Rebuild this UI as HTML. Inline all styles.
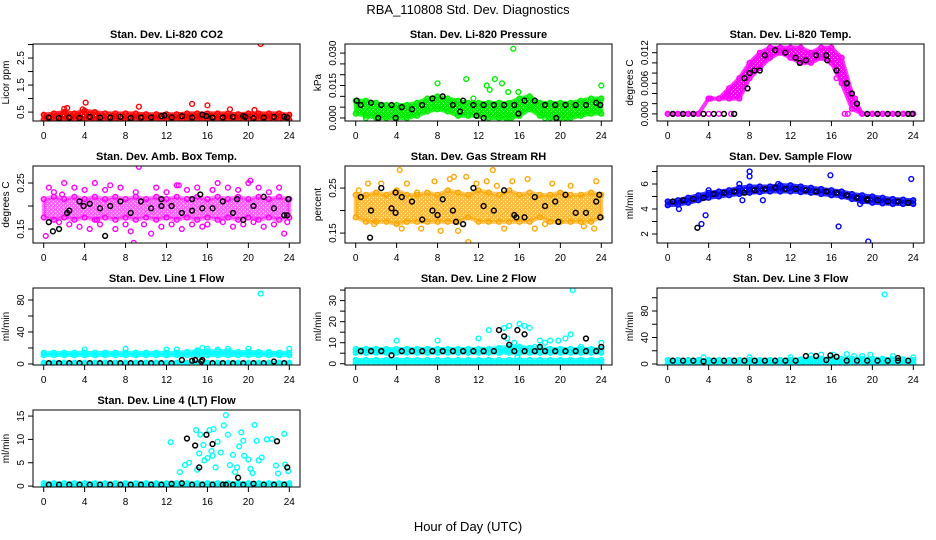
<!DOCTYPE html>
<html><head><meta charset="utf-8"><style>
body{margin:0;background:#fff}
svg{display:block;font-family:"Liberation Sans",sans-serif}
</style></head><body>
<svg id="chart" width="936" height="540" xmlns="http://www.w3.org/2000/svg">
<rect width="936" height="540" fill="#fff"/>
<defs id="defs"></defs>
<text x="468" y="14" font-size="13" text-anchor="middle">RBA_110808  Std. Dev. Diagnostics</text>
<text x="468" y="531" font-size="13" text-anchor="middle">Hour of Day (UTC)</text>
</svg>
<script>
const hoursBand=[0,1,2,3,4,5,6,7,8,9,10,11,12,13,14,15,16,17,18,19,20,21,22,23,24];
const blackTimes=[0.5,1.5,2.5,3.5,4.5,5.5,6.5,7.5,8.5,9.5,10.5,11.5,12.5,13.5,14.5,15.5,16.5,17.5,18.5,19.5,20.5,21.5,22.5,23.5];
const xTicks=[0,4,8,12,16,20,24];

// P1 CO2
const p1Lo=[0.22,0.22,0.22,0.22,0.22,0.22,0.22,0.22,0.22,0.22,0.22,0.22,0.22,0.22,0.22,0.22,0.22,0.22,0.22,0.22,0.22,0.22,0.22,0.22,0.22];
const p1Hi=[0.4,0.45,0.5,0.45,0.55,0.5,0.45,0.45,0.45,0.45,0.42,0.42,0.42,0.42,0.45,0.45,0.45,0.45,0.45,0.42,0.45,0.45,0.45,0.45,0.4];
const p1OutT=[2,2.3,4.1,3.8,9.3,14.5,16,21.2,18.2,20.6];
const p1OutV=[0.62,0.65,0.85,0.6,0.7,0.8,0.75,3.02,0.6,0.58];
const p1Blk=[0.3,0.28,0.3,0.28,0.32,0.3,0.3,0.32,0.28,0.3,0.3,0.35,0.3,0.35,0.3,0.4,0.3,0.3,0.32,0.35,0.28,0.3,0.32,0.33];
const p1XT=[11.8,15.9,19.7,23.8];const p1XV=[0.38,0.35,0.32,0.3];

// P2 pressure
const p2Lo=[0.002,0.001,0.0,0.0,0.0,0.0,0.001,0.003,0.004,0.003,0.001,0.001,0.001,0.0,0.0,0.0,0.001,0.004,0.001,0.0,0.0,0.0,0.001,0.002,0.002];
const p2Hi=[0.008,0.008,0.007,0.006,0.006,0.006,0.007,0.009,0.010,0.009,0.008,0.007,0.007,0.007,0.007,0.007,0.009,0.010,0.007,0.007,0.007,0.007,0.008,0.009,0.009];
const p2OutT=[8,10.8,12.8,13.1,13.6,14.3,14.9,15.4,15.9,11.5,24,1,14.7,15.2,18.5,20.5];
const p2OutV=[0.016,0.018,0.015,0.013,0.018,0.016,0.012,0.032,0.012,0.009,0.015,0,0,0,0,0];
const p2Blk=[0.006,0.007,0.006,0.006,0.005,0.004,0.006,0.009,0.010,0.006,0.008,0.006,0.006,0.006,0.006,0.006,0.008,0.008,0.006,0.006,0.006,0.006,0.006,0.007];
const p2XT=[2.2,3.9,10.2,11.8,12.5,15.9,19.6,23.9,0.1];const p2XV=[0,0,0.003,0.001,0,0.002,0,0.006,0.008];

// P3 Li-820 temp
const p3Lo=[0,0,0,0,0.003,0.003,0.003,0.003,0.007,0.009,0.011,0.012,0.011,0.010,0.010,0.011,0.010,0.006,0.001,0,0,0,0,0,0];
const p3Hi=[0,0,0,0,0.003,0.003,0.005,0.007,0.010,0.012,0.013,0.013,0.013,0.013,0.012,0.013,0.013,0.011,0.004,0,0,0,0,0,0];
const p3OutT=[4,5,6.2,7.8,17.3,17.6,18.3,16.5,4.2,5.8];
const p3OutV=[0,0,0,0.005,0,0,0.003,0.007,0.003,0.004];
const p3Blk=[0,0,0,0,0,0,0,0.007,0.0085,0.0115,0.0125,0.012,0.011,0.0105,0.0115,0.0115,0.0085,0.006,0.002,0,0,0,0,0];
const p3XT=[7.8,8,9,12.9,15.6,17.5,18,23.9];const p3XV=[0.005,0.008,0.0085,0.010,0.0105,0.006,0.004,0];

// P4 Amb box temp
const p4Lo=[0.175,0.17,0.175,0.17,0.175,0.17,0.175,0.17,0.175,0.17,0.175,0.17,0.175,0.17,0.175,0.17,0.175,0.17,0.175,0.17,0.175,0.17,0.175,0.17,0.175];
const p4Hi=[0.215,0.22,0.215,0.22,0.215,0.22,0.215,0.22,0.215,0.22,0.215,0.22,0.215,0.22,0.215,0.22,0.215,0.22,0.215,0.22,0.215,0.22,0.215,0.22,0.215];
const p4OutT=[0.2,0.5,1,1.5,2,2.5,3,3.5,4,4.5,5,5.5,6,6.5,7,7.5,8,8.5,9,9.3,9.8,10.5,11,11.5,12,12.5,13,13.5,14,14.5,15,15.5,16,17,17.5,18,18.5,19,19.5,20,20.5,21,21.5,22,22.5,23,23.5,23.8,1.8,5.2,8.8,13.2,16.5,20.2];
const p4OutV=[0.135,0.24,0.23,0.165,0.25,0.16,0.24,0.155,0.235,0.15,0.25,0.16,0.235,0.245,0.15,0.24,0.16,0.145,0.23,0.285,0.16,0.14,0.24,0.155,0.23,0.16,0.245,0.15,0.235,0.16,0.24,0.155,0.16,0.25,0.165,0.24,0.155,0.235,0.16,0.25,0.165,0.24,0.155,0.23,0.16,0.24,0.14,0.165,0.225,0.17,0.12,0.245,0.235,0.255];
const p4Blk=[0.165,0.15,0.19,0.21,0.205,0.195,0.2,0.21,0.185,0.21,0.195,0.2,0.2,0.185,0.19,0.195,0.195,0.21,0.185,0.17,0.2,0.22,0.195,0.18];
const p4XT=[0.9,2.3,3.9,6,11.5,14.5,15.3,18.9,23.9,23.8];const p4XV=[0.145,0.185,0.2,0.135,0.215,0.215,0.225,0.215,0.215,0.18];

// P5 RH
const p5Lo=[0.185,0.175,0.175,0.175,0.17,0.175,0.175,0.175,0.175,0.175,0.175,0.185,0.175,0.175,0.175,0.175,0.175,0.175,0.185,0.175,0.175,0.175,0.175,0.175,0.185];
const p5Hi=[0.235,0.235,0.24,0.235,0.245,0.235,0.235,0.24,0.235,0.245,0.24,0.235,0.245,0.24,0.235,0.245,0.235,0.24,0.235,0.235,0.24,0.235,0.235,0.24,0.235];
const p5OutT=[0.3,1.2,1.8,4.3,4.5,5,6.4,7.7,8.3,9.2,9.6,10,10.8,11,11.8,12.8,13.4,13.8,14.5,15.3,16.8,17.5,18.5,19.2,21,22.3,23.5,23.3,6,2.5];
const p5OutV=[0.245,0.26,0.17,0.29,0.16,0.26,0.16,0.265,0.155,0.27,0.275,0.155,0.275,0.13,0.26,0.265,0.29,0.255,0.16,0.265,0.27,0.16,0.17,0.26,0.255,0.165,0.265,0.16,0.24,0.26];
const p5Blk=[0.23,0.2,0.25,0.205,0.23,0.22,0.18,0.2,0.225,0.2,0.17,0.25,0.21,0.2,0.245,0.19,0.185,0.23,0.21,0.22,0.235,0.195,0.195,0.22];
const p5XT=[1.4,3.9,3.9,8,9.8,15.7,19.8,23.9,23.8];const p5XV=[0.14,0.24,0.195,0.19,0.175,0.185,0.175,0.185,0.235];

// P6 sample flow
const p6Lo=[4.3,4.35,4.5,4.7,4.9,5.0,5.1,5.2,5.3,5.35,5.4,5.4,5.4,5.35,5.3,5.2,5.1,5.0,4.8,4.6,4.5,4.45,4.4,4.4,4.4];
const p6Hi=[4.6,4.7,4.9,5.1,5.3,5.4,5.5,5.7,5.8,5.8,5.8,5.9,5.9,5.8,5.7,5.6,5.5,5.4,5.2,5.1,5.0,4.9,4.8,4.75,4.7];
const p6OutT=[1.1,3.3,3.7,8,8,7.3,9.3,16.7,15.9,19.6,23.8,18.8,7,10.8,4];
const p6OutV=[4.0,2.8,3.5,7.0,6.6,4.7,4.7,2.6,6.7,1.4,6.4,4.4,6.0,6.0,5.5];
const p6Blk=[4.6,4.7,4.8,4.9,5.2,5.3,5.4,5.3,5.5,5.6,5.7,5.6,5.6,5.5,5.4,5.4,5.3,5.1,4.9,4.8,4.7,4.6,4.6,4.5];
const p6XT=[2.9,19.5];const p6XV=[2.5,4.7];

// P7 line1
const p7ALo=[11,11,11,11,11,11,11,11,11,11,11,11,11,11,11,11,11,11,11,11,11,11,11,11,11];
const p7AHi=[14,14,14,14,14,14,14,14,14,14,14,14,14,14,15,16,16,16,16,15,15,15,14,14,14];
const p7BLo=[0,0,0,0,0,0,0,0,0,0,0,0,0,0,0,0,0,0,0,0,0,0,0,0,0];
const p7BHi=[1.5,1.5,1.5,1.5,1.5,1.5,1.5,1.5,1.5,1.5,1.5,1.5,1.5,1.5,1.5,1.5,1.5,1.5,1.5,1.5,1.5,1.5,1.5,1.5,1.5];
const p7OutT=[4,12,13,8,16,18,20,21.2,24,15,22,15.5,17];
const p7OutV=[18,18,18,19,19,19,19,88,19,17,15,20,18];
const p7Blk=[1,1,1,1,1,1,1,1,1,1,1,1,1,5,4,5,1,1,1,1,1,1,3,1];
const p7XT=[14.8,15.4];const p7XV=[5,3];

// P8 line2
const p8ALo=[5.2,5.2,5.2,5.2,5.2,5.2,5.2,5.2,5.2,5.2,5.2,5.2,5.2,5.2,5.2,5.2,5.2,5.2,5.2,5.2,5.2,5.2,5.2,5.2,5.2];
const p8AHi=[7,7,7,7,7,7,7,7,7,7,7,7,7,7,7.5,8,8,7.5,7.5,7,7,7,7,7,7];
const p8BLo=[0.3,0.3,0.3,0.3,0.3,0.3,0.3,0.3,0.3,0.3,0.3,0.3,0.3,0.3,0.3,0.3,0.3,0.3,0.3,0.3,0.3,0.3,0.3,0.3,0.3];
const p8BHi=[1.8,1.8,1.8,1.8,1.8,1.8,1.8,1.8,1.8,1.8,1.8,1.8,1.8,1.8,1.8,1.8,1.8,1.8,1.8,1.8,1.8,1.8,1.8,1.8,1.8];
const p8OutT=[4,8,12,13,14.5,15,16,16.5,17,15.5,14.8,18,19,19.8,20.5,21,21.2,24,16,17.5,15.8,12.5,18.5,22];
const p8OutV=[11,11,12,16,17,18,19,18,17,10,12,11,11,11,12,14,35,10,8,8,3,6,10,8];
const p8Blk=[6,6,6,4,6,6,6,6,6,6,6,6,6,6,13,6,6,6,6,6,6,6,6,6];
const p8XT=[14,15,15.8,16.5,18,22.5,24];const p8XV=[16,9,16,14,8,12,8];

// P9 line3
const p9ALo=[0,0,0,0,0,0,0,0,0,0,0,0,0,0,0,0,0,0,0,0,0,0,0,0,0];
const p9AHi=[6,6,6,6,6,6,6,6,6,6,6,6,6,7,8,8,8,8,8,8,8,8,7,7,6];
const p9OutT=[3.5,8,12,14,15,16.2,17.5,18.2,19,19.8,21.2,22,24];
const p9OutV=[10,10,10,13,14,14,15,12,12,14,105,12,10];
const p9Blk=[5,5,5,4,5,5,5,5,5,5,5,5,5,12,12,6,11,5,5,5,5,5,5,5];
const p9XT=[15.9,22.5];const p9XV=[13,9];

// P10 line4
const p10Lo=[0,0,0,0,0,0,0,0,0,0,0,0,0,0,0,0,0,0,0,0,0,0,0,0,0];
const p10Hi=[0.6,0.6,0.6,0.6,0.6,0.6,0.6,0.6,0.6,0.6,0.6,0.6,0.6,0.6,0.6,0.6,0.6,0.6,0.6,0.6,0.6,0.6,0.6,0.6,0.6];
const p10OutT=[12.4,13.3,13.8,14.2,14.9,15,15.2,15.3,15.6,15.7,16,16.2,16.4,16.6,16.8,16.5,17,17.3,17.6,17.8,18,18.2,18.5,18.7,18.9,19.1,19.3,19.5,19.6,20,20.2,20.4,20.6,21,21.3,21.8,22.7,23.5,22.3,23.6,23.9,22.9,20.8];
const p10OutV=[9.4,3,4.5,5,12,3.5,7,11,8.8,5.5,6,12,7.5,12.2,4,6.5,9.5,7.2,13,15.2,11,4.5,6.7,3,4,8.5,11.5,9.7,6.5,5.7,3.7,2.8,13.1,5.5,6.1,10,4.4,11.2,10.1,4.6,3.2,2.7,9.7];
const p10Blk=[0.3,0.3,0.3,0.3,0.3,0.3,0.3,0.3,0.3,0.3,0.3,0.3,0.5,0.6,0.3,0.3,0.3,0.3,0.3,0.3,0.5,0.3,0.3,0.3];
const p10XT=[14,14.8,15.2,15.9,16.5,17.8,19,22.8,23.8];const p10XV=[10.2,8.7,4,11,9,0.3,1.8,9.6,4];

const panels=[
 {name:'co2',title:'Stan. Dev. Li-820 CO2',ylab:'Licor ppm',col:'#ff0000',op:1,ymin:0.17,ymax:3.02,ticks:[0.5,1,1.5,2,2.5,3],labels:['0.5','1.5','2.5'],bands:[[p1Lo,p1Hi]],oT:p1OutT,oV:p1OutV,blk:p1Blk,xT:p1XT,xV:p1XV},
 {name:'pressure',title:'Stan. Dev. Li-820 Pressure',ylab:'kPa',col:'#00ee00',op:1,ymin:-0.0014,ymax:0.0342,ticks:[0,0.005,0.01,0.015,0.02,0.025,0.03],labels:['0.000','0.015','0.030'],bands:[[p2Lo,p2Hi]],oT:p2OutT,oV:p2OutV,blk:p2Blk,xT:p2XT,xV:p2XV},
 {name:'li820-temp',title:'Stan. Dev. Li-820 Temp.',ylab:'degrees C',col:'#ff00ff',op:1,ymin:-0.0014,ymax:0.0137,ticks:[0,0.002,0.004,0.006,0.008,0.01,0.012],labels:['0.000','0.006','0.012'],bands:[[p3Lo,p3Hi]],oT:p3OutT,oV:p3OutV,blk:p3Blk,xT:p3XT,xV:p3XV},
 {name:'amb-box-temp',title:'Stan. Dev. Amb. Box Temp.',ylab:'degrees C',col:'#ff00ff',op:0.6,ymin:0.1196,ymax:0.287,ticks:[0.15,0.2,0.25],labels:['0.15','0.25'],bands:[[p4Lo,p4Hi]],oT:p4OutT,oV:p4OutV,blk:p4Blk,xT:p4XT,xV:p4XV},
 {name:'gas-rh',title:'Stan. Dev. Gas Stream RH',ylab:'percent',col:'#ffa500',op:0.75,ymin:0.128,ymax:0.299,ticks:[0.15,0.2,0.25],labels:['0.15','0.25'],bands:[[p5Lo,p5Hi]],oT:p5OutT,oV:p5OutV,blk:p5Blk,xT:p5XT,xV:p5XV},
 {name:'sample-flow',title:'Stan. Dev. Sample Flow',ylab:'ml/min',col:'#0000ff',op:1,ymin:1.28,ymax:7.44,ticks:[2,3,4,5,6,7],labels:['2','4','6'],bands:[[p6Lo,p6Hi]],oT:p6OutT,oV:p6OutV,blk:p6Blk,xT:p6XT,xV:p6XV},
 {name:'line1-flow',title:'Stan. Dev. Line 1 Flow',ylab:'ml/min',col:'#00ffff',op:1,ymin:-1.3,ymax:95,ticks:[0,20,40,60,80],labels:['0','40','80'],bands:[[p7ALo,p7AHi],[p7BLo,p7BHi]],oT:p7OutT,oV:p7OutV,blk:p7Blk,xT:p7XT,xV:p7XV},
 {name:'line2-flow',title:'Stan. Dev. Line 2 Flow',ylab:'ml/min',col:'#00ffff',op:1,ymin:-0.6,ymax:36,ticks:[0,5,10,15,20,25,30,35],labels:['0','10','20','30'],bands:[[p8ALo,p8AHi],[p8BLo,p8BHi]],oT:p8OutT,oV:p8OutV,blk:p8Blk,xT:p8XT,xV:p8XV},
 {name:'line3-flow',title:'Stan. Dev. Line 3 Flow',ylab:'ml/min',col:'#00ffff',op:1,ymin:-1.5,ymax:114.7,ticks:[0,20,40,60,80,100],labels:['0','40','80'],bands:[[p9ALo,p9AHi]],oT:p9OutT,oV:p9OutV,blk:p9Blk,xT:p9XT,xV:p9XV},
 {name:'line4-flow',title:'Stan. Dev. Line 4 (LT) Flow',ylab:'ml/min',col:'#00ffff',op:1,ymin:-0.2,ymax:16.3,ticks:[0,5,10,15],labels:['0','5','10','15'],bands:[[p10Lo,p10Hi]],oT:p10OutT,oV:p10OutV,blk:p10Blk,xT:p10XT,xV:p10XV}
];

const NS='http://www.w3.org/2000/svg';
const svg=document.getElementById('chart');
const defs=document.getElementById('defs');
function mk(tag,attrs,parent){const e=document.createElementNS(NS,tag);for(const k in attrs)e.setAttribute(k,attrs[k]);(parent||svg).appendChild(e);return e;}

panels.forEach((p,i)=>{
  const c=i%3,r=Math.floor(i/3);
  const x0=33+312*c,x1=x0+267,y0=44+122*r,y1=y0+77;
  const sx=t=>x0+10.7+t/24*(267-21.4);
  const sy=v=>y1-(v-p.ymin)/(p.ymax-p.ymin)*77;
  // speckle pattern
  const pat=mk('pattern',{id:'pat'+i,width:4,height:4,patternUnits:'userSpaceOnUse'},defs);
  mk('rect',{width:4,height:4,fill:p.col},pat);
  mk('rect',{x:1,y:1,width:1,height:1,fill:'#fff'},pat);
  mk('rect',{x:3,y:3,width:1,height:1,fill:'#fff'},pat);
  const g=mk('g',{});
  
  
  const clip=mk('clipPath',{id:'clip'+i},g);
  mk('rect',{x:x0,y:y0,width:267,height:77},clip);
  const t=mk('text',{x:(x0+x1)/2,y:y0-6,'font-size':11,'font-weight':'bold','text-anchor':'middle'},g);
  t.textContent=p.title;
  
  
  const yl=mk('text',{transform:`translate(${x0-24},${(y0+y1)/2}) rotate(-90)`,'font-size':10,'text-anchor':'middle'},g);
  yl.textContent=p.ylab;
  
  
  const plot=mk('g',{'clip-path':`url(#clip${i})`},g);
  p.bands.forEach(b=>{
    let pts=[];
    hoursBand.forEach((h,k)=>pts.push(sx(h)+','+sy(b[1][k])));
    for(let k=hoursBand.length-1;k>=0;k--)pts.push(sx(hoursBand[k])+','+sy(b[0][k]));
    const poly=mk('polygon',{points:pts.join(' '),fill:`url(#pat${i})`,'fill-opacity':p.op,stroke:p.col,'stroke-opacity':p.op*0.8,'stroke-width':4,'stroke-linejoin':'round'},plot);
    
    
    hoursBand.forEach((h,k)=>{
      [b[0][k],b[1][k]].forEach(v=>{
        const ci=mk('circle',{cx:sx(h),cy:sy(v),r:2.4,fill:'none',stroke:p.col,'stroke-width':1.4},plot);
        
        
      });
    });
  });
  const n=Math.min(p.oT.length,p.oV.length);
  for(let k=0;k<n;k++){
    const ci=mk('circle',{cx:sx(p.oT[k]),cy:sy(p.oV[k]),r:2.4,fill:'none',stroke:p.col,'stroke-width':1.4},plot);
    
    
  }
  blackTimes.forEach((h,k)=>{
    const ci=mk('circle',{cx:sx(h),cy:sy(p.blk[k]),r:2.4,fill:'none',stroke:'#000','stroke-width':1.5},plot);
    
    
  });
  const m=Math.min(p.xT.length,p.xV.length);
  for(let k=0;k<m;k++){
    const ci=mk('circle',{cx:sx(p.xT[k]),cy:sy(p.xV[k]),r:2.4,fill:'none',stroke:'#000','stroke-width':1.5},plot);
    
    
  }
  const box=mk('rect',{x:x0,y:y0,width:267,height:77,fill:'none',stroke:'#000','stroke-width':1},g);
  
  
  xTicks.forEach(v=>{
    mk('line',{x1:sx(v),x2:sx(v),y1:y1,y2:y1+5,stroke:'#000'},g);
    const tl=mk('text',{x:sx(v),y:y1+18,'font-size':10,'text-anchor':'middle'},g);
    tl.textContent=v;
    
    
  });
  p.ticks.forEach(v=>{
    mk('line',{x1:x0-5,x2:x0,y1:sy(v),y2:sy(v),stroke:'#000'},g);
  });
  p.labels.forEach(s=>{
    const v=parseFloat(s);
    const tl=mk('text',{transform:`translate(${x0-9},${sy(v)}) rotate(-90)`,'font-size':10,'text-anchor':'middle'},g);
    tl.textContent=s;
    
    
  });
});
</script>
</body></html>
